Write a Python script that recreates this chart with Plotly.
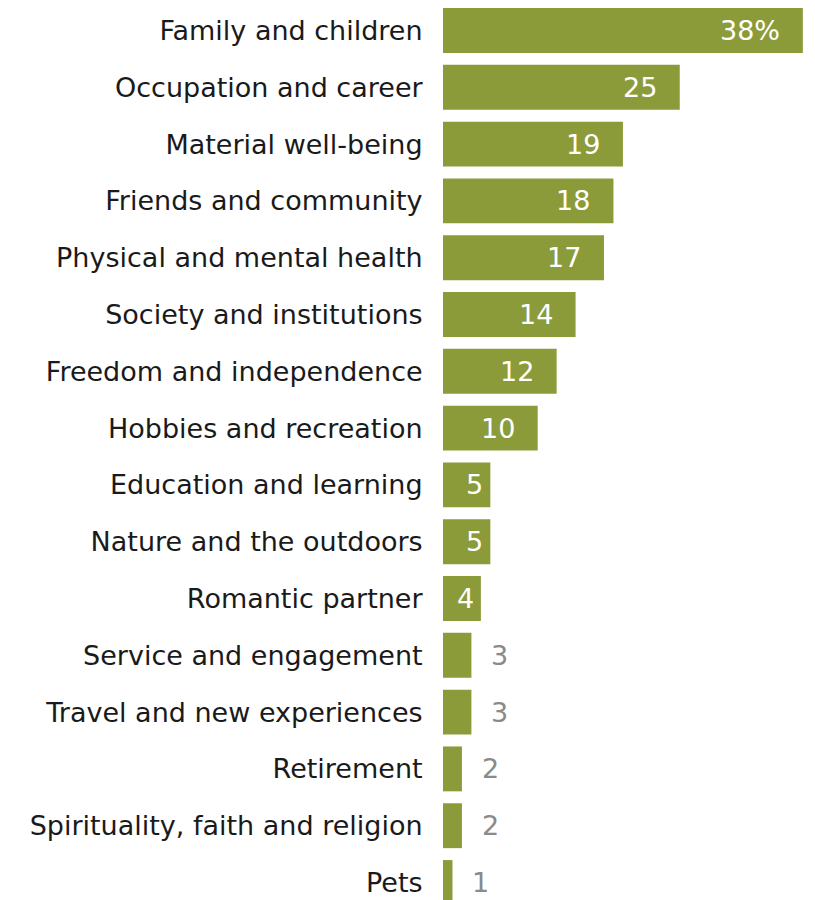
import plotly.graph_objects as go

categories = [
    "Family and children",
    "Occupation and career",
    "Material well-being",
    "Friends and community",
    "Physical and mental health",
    "Society and institutions",
    "Freedom and independence",
    "Hobbies and recreation",
    "Education and learning",
    "Nature and the outdoors",
    "Romantic partner",
    "Service and engagement",
    "Travel and new experiences",
    "Retirement",
    "Spirituality, faith and religion",
    "Pets",
]
values = [38, 25, 19, 18, 17, 14, 12, 10, 5, 5, 4, 3, 3, 2, 2, 1]
value_labels = ["38%", "25", "19", "18", "17", "14", "12", "10", "5", "5", "4", "3", "3", "2", "2", "1"]

BAR = "#8c9b3a"
FONT = "DejaVu Sans"

W, H = 815, 900
left = 443
px_per_unit = 9.47
pitch = 56.8
first_center = 30.5

fig = go.Figure(
    go.Bar(
        x=values,
        y=categories,
        orientation="h",
        marker=dict(color=BAR, line=dict(width=0)),
        hoverinfo="skip",
    )
)

# value labels: white inside the longer bars, grey just past the short ones
for cat, v, lab in zip(categories, values, value_labels):
    if v >= 4:
        shift = -21 if v >= 10 else -5
        fig.add_annotation(
            x=v, y=cat, text=lab, showarrow=False, xanchor="right",
            xshift=shift, font=dict(family=FONT, size=27, color="white"),
        )
    else:
        fig.add_annotation(
            x=v, y=cat, text=lab, showarrow=False, xanchor="left",
            xshift=18, font=dict(family=FONT, size=27, color="#8a8a8a"),
        )

plot_w = W - left
fig.update_layout(
    width=W,
    height=H,
    margin=dict(l=left, r=0, t=0, b=0),
    paper_bgcolor="white",
    plot_bgcolor="white",
    bargap=0.21,
    showlegend=False,
    xaxis=dict(
        range=[0, plot_w / px_per_unit],
        visible=False,
        fixedrange=True,
    ),
    yaxis=dict(
        type="category",
        categoryorder="array",
        categoryarray=categories,
        range=[(H - first_center) / pitch, -first_center / pitch],
        showgrid=False,
        zeroline=False,
        showline=False,
        ticks="outside",
        ticklen=14,
        tickcolor="rgba(0,0,0,0)",
        tickfont=dict(family=FONT, size=27, color="#1a1a1a"),
        automargin=False,
    ),
)

fig.write_html("out.html")
